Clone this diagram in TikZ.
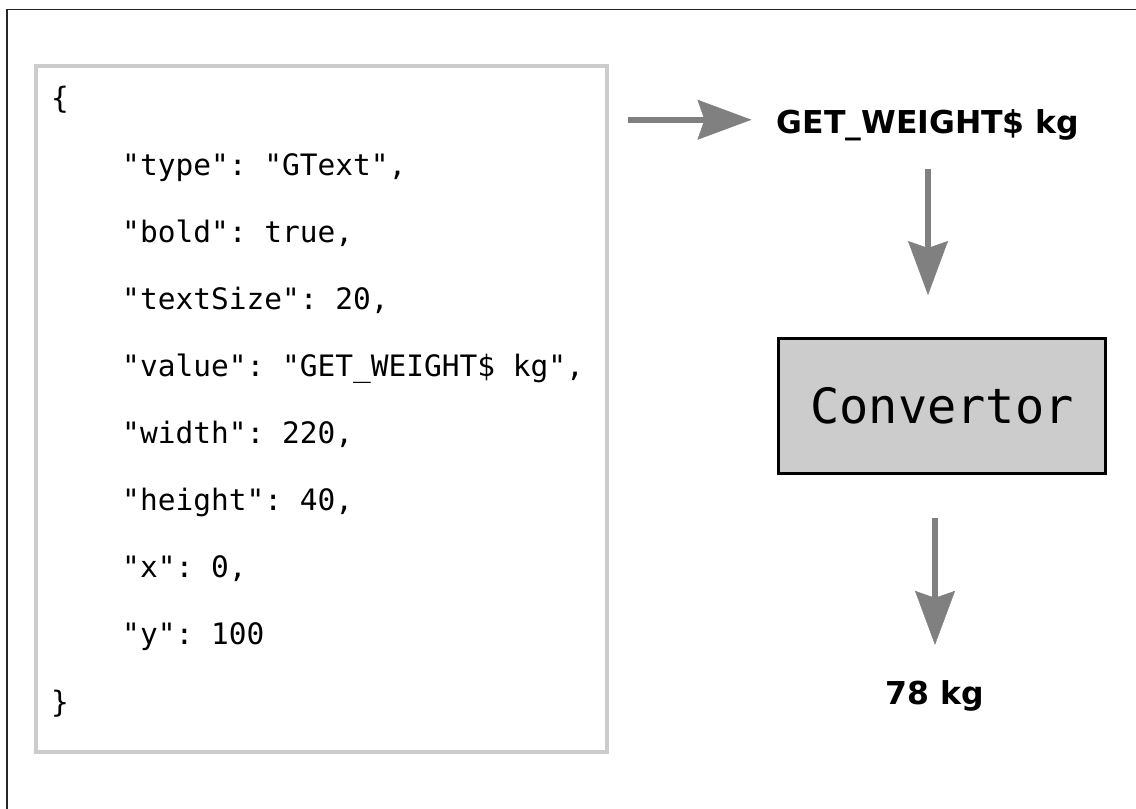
\documentclass[tikz,border=0pt]{standalone}
\usepackage{fontspec}
\setsansfont{DejaVu Sans}
\setmonofont{DejaVu Sans Mono}
\usetikzlibrary{arrows.meta}
\newcommand{\ind}{\phantom{0000}}

\begin{document}
\begin{tikzpicture}[
    x=1pt, y=-1pt,
    flow/.style={draw=gray, line width=6pt,
      -{Stealth[length=54pt, width=40pt, inset=7pt, line width=0.5pt]}},
    valtext/.style={font=\fontsize{31.5}{38}\selectfont\sffamily\bfseries,
      inner sep=0pt, anchor=base},
    every node/.style={align=left}]

  \useasboundingbox (0,0) rectangle (1136,809);
  \draw[line width=1.5pt, black!85] (7,809) -- (7,9.5) -- (1136,9.5);

  \node[draw=gray!40, line width=4pt, minimum width=571pt, minimum height=686pt]
    (frame) at (321.5,409) {};
  \node[anchor=north west, inner sep=0pt,
    font=\fontsize{29.5}{67.1}\selectfont\ttfamily] (json) at (51,85.5) {%
    \{\\
    \ind"type": "GText",\\
    \ind"bold": true,\\
    \ind"textSize": 20,\\
    \ind"value": "GET\_WEIGHT\$ kg",\\
    \ind"width": 220,\\
    \ind"height": 40,\\
    \ind"x": 0,\\
    \ind"y": 100\\
    \}};

  \node[valtext] (raw) at (928,133) {GET\_WEIGHT\$ kg};
  \node[draw, line width=3pt, fill=gray!40, minimum width=327pt, minimum height=135pt,
    font=\fontsize{48.6}{58}\selectfont\ttfamily] (conv) at (942,406) {Convertor};
  \node[valtext] (result) at (935,704) {78 kg};

  \draw[flow] ([xshift=19pt,yshift=5pt]frame.east |- raw.west) -- ([xshift=-25pt,yshift=5pt]raw.west);
  \draw[flow] ([yshift=-28pt]raw.south) -- ([yshift=42pt]conv.north -| raw.south);
  \draw[flow] ([yshift=-43pt]conv.south -| result.north) -- ([yshift=35pt]result.north);
\end{tikzpicture}
\end{document}
